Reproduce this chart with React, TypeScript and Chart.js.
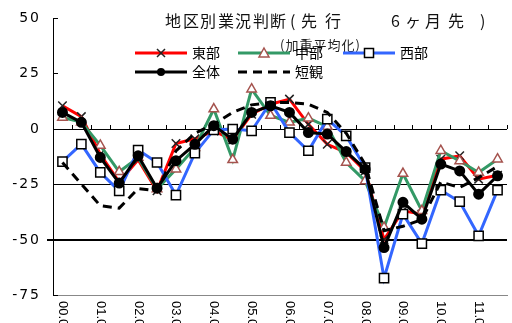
import React, { useEffect, useRef } from "react";
import { Chart, registerables } from "chart.js";
Chart.register(...registerables);

const categories = [
  "00.06", "00.12", "01.06", "01.12", "02.06", "02.12", "03.06", "03.12",
  "04.06", "04.12", "05.06", "05.12", "06.06", "06.12", "07.06", "07.12",
  "08.06", "08.12", "09.06", "09.12", "10.06", "10.12", "11.06", "11.12",
];
const east = [10.4, 5.5, -11.5, -24, -14, -28, -6.6, -4.5, -1, -5, 6.6, 11.1, 13.4, 2, -7, -10.7, -19, -50, -37, -38.5, -13.7, -12.2, -22.7, -21];
const central = [5.1, 3, -7.5, -19.4, -13, -27.2, -18.2, -8.5, 8.9, -14, 17.9, 6, 2.9, 4.8, 1, -15.2, -23.5, -44.5, -20.2, -37, -9.9, -14.5, -19.7, -13.7];
const west = [-14.8, -6.9, -19.7, -28, -9.6, -15.2, -29.9, -11, -0.5, -0.1, -0.9, 11.9, -1.7, -9.9, 4.4, -3.2, -17.5, -67.4, -38.5, -51.8, -27.7, -32.9, -48.3, -27.7];
const total = [7.4, 2.9, -12.9, -24.5, -12.2, -26.8, -14.4, -7, 1.4, -4.7, 7.4, 10.4, 7.4, -1.7, -2.4, -10.3, -18.2, -53.6, -33.2, -40.8, -15.9, -19, -29.5, -21.2];
const tankan = [-15.2, -25, -34.7, -35.8, -27, -28, -10, -2, 2, 7.4, 10.8, 11.9, 11.9, 11.1, 7.4, -2, -16, -46, -44, -41, -24, -26.5, -22, -17];

const seriesNames = ["東部", "中部", "西部", "全体", "短観"];
const yTicks = [50, 25, 0, -25, -50, -75];
const gridValues = [0, -25, -50];
const titleText = "地区別業況判断(先行 6ヶ月先)";
const subtitleText = "(加重平均化)";

const RED = "#FF0000";
const GREEN = "#339966";
const BLUE = "#3366FF";
const TRI = "#A5534E";
const JP = '"Noto Sans CJK JP", "Noto Sans", sans-serif';

function drawMarker(ctx: CanvasRenderingContext2D, kind: string, x: number, y: number) {
  ctx.save();
  ctx.lineWidth = 1.5;
  if (kind === "cross") {
    ctx.strokeStyle = "#222";
    ctx.beginPath();
    ctx.moveTo(x - 4, y - 4); ctx.lineTo(x + 4, y + 4);
    ctx.moveTo(x + 4, y - 4); ctx.lineTo(x - 4, y + 4);
    ctx.stroke();
  } else if (kind === "tri") {
    ctx.strokeStyle = TRI; ctx.fillStyle = "#fff";
    ctx.beginPath();
    ctx.moveTo(x, y - 5); ctx.lineTo(x + 5, y + 4); ctx.lineTo(x - 5, y + 4); ctx.closePath();
    ctx.fill(); ctx.stroke();
  } else if (kind === "rect") {
    ctx.strokeStyle = "#000"; ctx.fillStyle = "#fff";
    ctx.fillRect(x - 4.5, y - 4.5, 9, 9); ctx.strokeRect(x - 4.5, y - 4.5, 9, 9);
  } else if (kind === "circle") {
    ctx.fillStyle = "#000";
    ctx.beginPath(); ctx.arc(x, y, 4, 0, Math.PI * 2); ctx.fill();
  }
  ctx.restore();
}

const decor = {
  id: "decor",
  beforeDatasetsDraw(chart: any) {
    const { ctx, chartArea, scales } = chart;
    const x = scales.x, y = scales.y;
    ctx.save();
    ctx.strokeStyle = "#000";
    gridValues.forEach((v) => {
      const thick = v === -50;
      const py = Math.round(y.getPixelForValue(v)) + (thick ? 0 : 0.5);
      ctx.lineWidth = thick ? 2 : 1;
      ctx.beginPath();
      ctx.moveTo(thick ? chartArea.left - 6 : chartArea.left, py);
      ctx.lineTo(chartArea.right, py);
      ctx.stroke();
    });
    ctx.lineWidth = 1;
    ctx.fillStyle = "#000";
    ctx.font = '14px "DejaVu Sans", sans-serif';
    ctx.textAlign = "right";
    ctx.textBaseline = "middle";
    (ctx as any).letterSpacing = "2px";
    yTicks.forEach((v) => {
      const py = Math.round(y.getPixelForValue(v)) + 0.5;
      ctx.beginPath();
      ctx.moveTo(chartArea.left, py);
      ctx.lineTo(chartArea.left + 5, py);
      ctx.stroke();
      ctx.fillText(String(v), chartArea.left - 12, py);
    });
    (ctx as any).letterSpacing = "0px";
    const half = (x.getPixelForValue(1) - x.getPixelForValue(0)) / 2;
    const y0 = Math.round(y.getPixelForValue(0));
    for (let i = 1; i <= categories.length; i++) {
      const px = Math.round(x.getPixelForValue(i) - half) + 0.5;
      ctx.beginPath();
      ctx.moveTo(px, y0);
      ctx.lineTo(px, y0 - 4);
      ctx.stroke();
    }
    ctx.restore();
  },
  afterDraw(chart: any) {
    const { ctx, chartArea, scales } = chart;
    const x = scales.x;
    ctx.save();
    ctx.fillStyle = "#000";
    ctx.font = '13px "Liberation Sans", sans-serif';
    ctx.textAlign = "left";
    ctx.textBaseline = "middle";
    categories.forEach((lab, i) => {
      if (i % 2 !== 0) return;
      ctx.save();
      ctx.translate(x.getPixelForValue(i), chartArea.bottom + 6);
      ctx.rotate(Math.PI / 2);
      ctx.fillText(lab, 0, 0);
      ctx.restore();
    });
    const tx = [165, 183, 200, 218, 235, 253, 270, 290, 301, 325, 360, 391, 405, 425, 448, 480];
    ctx.font = "16px " + JP;
    ctx.fillStyle = "#111";
    Array.from(titleText).forEach((c, i) => {
      ctx.fillText(c, tx[i], 21);
    });
    ctx.font = "13px " + JP;
    ctx.fillStyle = "#222";
    (ctx as any).letterSpacing = "1px";
    ctx.fillText(subtitleText, 280, 45);
    (ctx as any).letterSpacing = "0px";
    const items = [
      { name: seriesNames[0], color: RED, dash: false, mk: "cross", x: 135, y: 53 },
      { name: seriesNames[1], color: GREEN, dash: false, mk: "tri", x: 238, y: 53 },
      { name: seriesNames[2], color: BLUE, dash: false, mk: "rect", x: 343, y: 53 },
      { name: seriesNames[3], color: "#000", dash: false, mk: "circle", x: 135, y: 72 },
      { name: seriesNames[4], color: "#000", dash: true, mk: "", x: 238, y: 72 },
    ];
    ctx.font = "14px " + JP;
    items.forEach((it) => {
      ctx.save();
      ctx.strokeStyle = it.color;
      ctx.lineWidth = 3;
      if (it.dash) ctx.setLineDash([9, 6]);
      ctx.beginPath();
      ctx.moveTo(it.x, it.y);
      ctx.lineTo(it.x + 52, it.y);
      ctx.stroke();
      ctx.restore();
      if (it.mk) drawMarker(ctx, it.mk, it.x + 26, it.y);
      ctx.fillStyle = "#000";
      ctx.fillText(it.name, it.x + 57, it.y);
    });
    ctx.restore();
  },
};

export default function App() {
  const ref = useRef<HTMLCanvasElement>(null);
  useEffect(() => {
    document.body.style.margin = "0";
    const chart = new Chart(ref.current!, {
      type: "line",
      data: {
        labels: categories,
        datasets: [
          {
            label: seriesNames[4], data: tankan, borderColor: "#000", borderWidth: 3,
            borderDash: [9, 6], pointRadius: 0, order: 0,
          },
          {
            label: seriesNames[3], data: total, borderColor: "#000", borderWidth: 3,
            pointStyle: "circle", pointRadius: 4, pointBackgroundColor: "#000", pointBorderColor: "#000", order: 1,
          },
          {
            label: seriesNames[2], data: west, borderColor: BLUE, borderWidth: 3,
            pointStyle: "rect", pointRadius: 6.5, pointBackgroundColor: "#fff", pointBorderColor: "#000",
            pointBorderWidth: 1.5, order: 2,
          },
          {
            label: seriesNames[1], data: central, borderColor: GREEN, borderWidth: 3,
            pointStyle: "triangle", pointRadius: 5.5, pointBackgroundColor: "#fff", pointBorderColor: TRI,
            pointBorderWidth: 1.5, order: 3,
          },
          {
            label: seriesNames[0], data: east, borderColor: RED, borderWidth: 3,
            pointStyle: "crossRot", pointRadius: 6, pointBorderColor: "#222", pointBorderWidth: 1.5, order: 4,
          },
        ],
      },
      options: {
        responsive: false,
        animation: false,
        layout: { padding: { top: 18, bottom: 28, left: 0, right: 0 } },
        plugins: { legend: { display: false }, tooltip: { enabled: false }, title: { display: false } },
        elements: { line: { tension: 0 } },
        scales: {
          x: {
            offset: true,
            ticks: { display: false },
            grid: { display: false },
            border: { display: true, color: "#888", width: 1 },
            afterFit: (s: any) => { s.height = 0; },
          },
          y: {
            min: -75, max: 50,
            afterBuildTicks: (s: any) => { s.ticks = yTicks.map((v) => ({ value: v })); },
            ticks: { display: false },
            grid: { display: false, drawTicks: false },
            border: { display: true, color: "#000", width: 1 },
            afterFit: (s: any) => { s.width = 53; },
          },
        },
      },
      plugins: [decor],
    });
    return () => chart.destroy();
  }, []);
  return (
    <div style={{ width: 512, height: 323, overflow: "hidden", position: "relative" }}>
      <canvas ref={ref} width={515} height={323} style={{ display: "block" }} />
    </div>
  );
}
